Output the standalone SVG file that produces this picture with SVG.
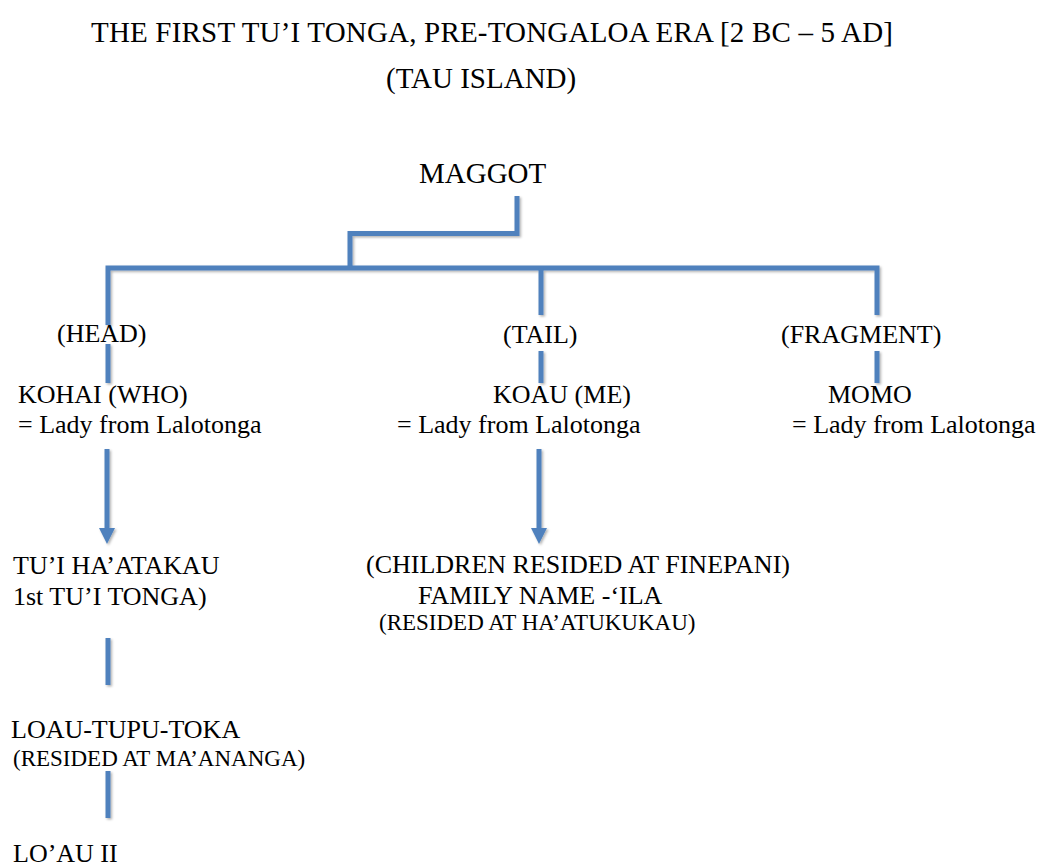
<svg xmlns="http://www.w3.org/2000/svg" width="1050" height="868" viewBox="0 0 1050 868">
  <defs>
    <style>
      text { font-family: 'Liberation Serif', 'Times New Roman', serif; fill: #000; }
      .t { font-size: 29px; }
      .n { font-size: 26px; }
      .s { font-size: 23px; }
      .ln { fill: none; stroke: #4F81BD; stroke-width: 5; stroke-linejoin: miter; stroke-linecap: butt; }
      .hd { fill: #4F81BD; }
    </style>
    <filter id="shadow" x="-10%" y="-10%" width="120%" height="120%">
      <feDropShadow dx="1.5" dy="1.5" stdDeviation="1" flood-color="#000" flood-opacity="0.3"/>
    </filter>
  </defs>

  <rect width="1050" height="868" fill="#fff"/>

  <!-- heading -->
  <g id="title">
    <text class="t" x="91" y="42" textLength="802" lengthAdjust="spacing">THE FIRST TU’I TONGA, PRE-TONGALOA ERA [2 BC – 5 AD]</text>
    <text class="t" x="386" y="88">(TAU ISLAND)</text>
  </g>

  <!-- connectors: tree bracket, drops and arrows -->
  <g id="connectors" filter="url(#shadow)">
    <polyline class="ln" points="517,196 517,233.5 350,233.5 350,268"/>
    <polyline class="ln" points="108,325 108,268 877,268 877,315"/>
    <line class="ln" x1="541" y1="268" x2="541" y2="315"/>
    <line class="ln" x1="108" y1="344" x2="108" y2="383"/>
    <line class="ln" x1="541" y1="351" x2="541" y2="383"/>
    <line class="ln" x1="877" y1="351" x2="877" y2="383"/>
    <line class="ln" x1="107" y1="449" x2="107" y2="529"/>
    <path class="hd" d="M99,528 L115,528 L107,544 Z"/>
    <line class="ln" x1="539" y1="449" x2="539" y2="529"/>
    <path class="hd" d="M531,528 L547,528 L539,544 Z"/>
    <line class="ln" x1="108" y1="638" x2="108" y2="685"/>
    <line class="ln" x1="108" y1="771" x2="108" y2="818"/>
  </g>

  <g id="maggot">
    <text class="t" x="419" y="183">MAGGOT</text>
  </g>

  <g id="head">
    <text class="n" x="57" y="342">(HEAD)</text>
  </g>
  <g id="tail">
    <text class="n" x="503" y="343">(TAIL)</text>
  </g>
  <g id="fragment">
    <text class="n" x="781" y="343">(FRAGMENT)</text>
  </g>

  <g id="kohai">
    <text class="n" x="18" y="403">KOHAI (WHO)</text>
    <text class="n" x="18" y="433">= Lady from Lalotonga</text>
  </g>
  <g id="koau">
    <text class="n" x="493" y="403">KOAU (ME)</text>
    <text class="n" x="397" y="433">= Lady from Lalotonga</text>
  </g>
  <g id="momo">
    <text class="n" x="828" y="403">MOMO</text>
    <text class="n" x="792" y="433">= Lady from Lalotonga</text>
  </g>

  <g id="tui-haatakau">
    <text class="n" x="13" y="574">TU’I HA’ATAKAU</text>
    <text class="n" x="13" y="605">1st TU’I TONGA)</text>
  </g>

  <g id="ila">
    <text class="n" x="366" y="573">(CHILDREN RESIDED AT FINEPANI)</text>
    <text class="n" x="418" y="604">FAMILY NAME -‘ILA</text>
    <text class="s" x="379" y="630">(RESIDED AT HA’ATUKUKAU)</text>
  </g>

  <g id="loau-tupu-toka">
    <text class="n" x="11" y="738">LOAU-TUPU-TOKA</text>
    <text class="s" x="13" y="766">(RESIDED AT MA’ANANGA)</text>
  </g>

  <g id="loau-ii">
    <text class="n" x="13" y="862">LO’AU II</text>
  </g>
</svg>
